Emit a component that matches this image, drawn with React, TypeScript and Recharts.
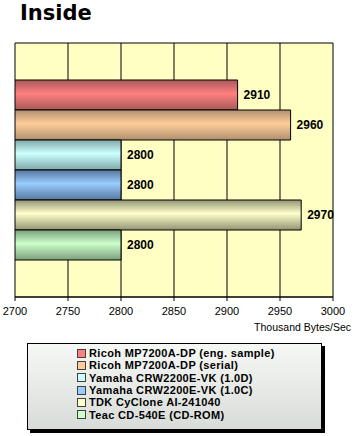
import { Bar, BarChart, CartesianGrid, LabelList, XAxis, YAxis } from "recharts"

const category = "Inside"
const seriesNames = [
  "Ricoh MP7200A-DP (eng. sample)",
  "Ricoh MP7200A-DP (serial)",
  "Yamaha CRW2200E-VK (1.0D)",
  "Yamaha CRW2200E-VK (1.0C)",
  "TDK CyClone AI-241040",
  "Teac CD-540E (CD-ROM)",
]
const seriesValues = [2910, 2960, 2800, 2800, 2970, 2800]
const lightColors = ["#FF8080", "#FFCC99", "#CCFFFF", "#99CCFF", "#FFFFCC", "#CCFFCC"]
const darkColors = ["#A85858", "#B09070", "#80A8A8", "#5878A0", "#949474", "#7CA07C"]
const xTicks = [2700, 2750, 2800, 2850, 2900, 2950, 3000]

const data = [
  seriesValues.reduce<Record<string, string | number>>(
    (row, v, i) => {
      row[`s${i}`] = v
      return row
    },
    { name: category }
  ),
]

const font = "'Liberation Sans', Arial, sans-serif"

function AxisTitle({ viewBox }: any) {
  if (!viewBox) return null
  return (
    <text
      x={viewBox.x + viewBox.width + 18}
      y={viewBox.y + 34}
      textAnchor="end"
      fontSize={10.5}
      fontFamily={font}
      fill="#000"
    >
      Thousand Bytes/Sec
    </text>
  )
}

export default function App() {
  return (
    <div style={{ position: "absolute", left: 0, top: 0, width: 355, height: 436, background: "#fff" }}>
      <div
        style={{
          position: "absolute",
          left: 20,
          top: 1,
          fontFamily: "'DejaVu Sans', sans-serif",
          fontWeight: "bold",
          fontSize: 21,
          color: "#000",
        }}
      >
        {category}
      </div>
      <BarChart
        width={355}
        height={337}
        data={data}
        layout="vertical"
        margin={{ top: 43, right: 22, left: 15, bottom: 0 }}
        barSize={30}
        barGap={0}
      >
        <defs>
          {lightColors.map((c, i) => (
            <linearGradient key={i} id={`g${i}`} x1="0" y1="0" x2="0" y2="1">
              <stop offset="0%" stopColor={darkColors[i]} />
              <stop offset="45%" stopColor={c} />
              <stop offset="100%" stopColor={darkColors[i]} />
            </linearGradient>
          ))}
        </defs>
        <CartesianGrid
          stroke="#000"
          fill="#FFFFC4"
          fillOpacity={1}
          horizontalCoordinatesGenerator={({ offset }: any) => [offset.top, offset.top + offset.height]}
        />
        <XAxis
          type="number"
          domain={[2700, 3000]}
          ticks={xTicks}
          allowDataOverflow
          height={40}
          tickSize={4}
          tickMargin={6}
          axisLine={{ stroke: "#000" }}
          tickLine={{ stroke: "#000" }}
          tick={{ fill: "#000", fontSize: 11, fontFamily: font }}
          label={<AxisTitle />}
        />
        <YAxis type="category" dataKey="name" hide />
        {seriesNames.map((n, i) => (
          <Bar
            key={n}
            dataKey={`s${i}`}
            name={n}
            fill={`url(#g${i})`}
            stroke="#000"
            strokeWidth={1}
            isAnimationActive={false}
          >
            <LabelList
              dataKey={`s${i}`}
              position="right"
              offset={6}
              fill="#000"
              fontSize={12}
              fontWeight="bold"
              fontFamily={font}
            />
          </Bar>
        ))}
      </BarChart>
      <div
        style={{
          position: "absolute",
          left: 27,
          top: 343,
          width: 293,
          height: 85,
          border: "1px solid #000",
          boxShadow: "3px 3px 0 #000",
          background: "linear-gradient(to bottom, #F6F8F6, #D8DCD8)",
          fontFamily: font,
          fontWeight: "bold",
          fontSize: 11,
          letterSpacing: 0.35,
          color: "#000",
        }}
      >
        <div style={{ position: "absolute", left: 49, top: 3 }}>
          {seriesNames.map((n, i) => (
            <div key={n} style={{ display: "flex", alignItems: "center", height: 12.3, whiteSpace: "nowrap" }}>
              <span
                style={{
                  display: "inline-block",
                  width: 7,
                  height: 7,
                  marginRight: 3,
                  background: lightColors[i],
                  border: "1px solid #404040",
                }}
              />
              {n}
            </div>
          ))}
        </div>
      </div>
    </div>
  )
}
